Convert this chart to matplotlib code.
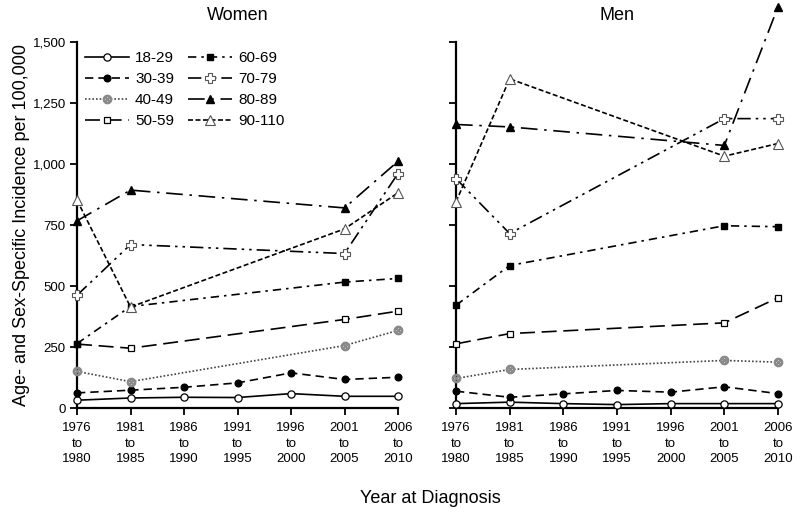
import matplotlib
matplotlib.use('Agg')
import matplotlib.pyplot as plt
import numpy as np

plt.rcParams['font.family'] = ['Liberation Sans', 'DejaVu Sans']

# x positions: 5-year periods, some age groups only reported for 4 periods
years = [1976, 1981, 1986, 1991, 1996, 2001, 2006]
years4 = [1976, 1981, 2001, 2006]
period_labels = ['1976\nto\n1980', '1981\nto\n1985', '1986\nto\n1990',
                 '1991\nto\n1995', '1996\nto\n2000', '2001\nto\n2005',
                 '2006\nto\n2010']

age_groups = ['18-29', '30-39', '40-49', '50-59',
              '60-69', '70-79', '80-89', '90-110']

# women, incidence per 100,000
w_18_29 = [32, 41, 44, 43, 59, 48, 48]
w_30_39 = [62, 73, 85, 103, 144, 117, 126]
w_40_49 = [150, 108, 256, 318]
w_50_59 = [262, 245, 363, 397]
w_60_69 = [264, 416, 516, 531]
w_70_79 = [462, 670, 633, 961]
w_80_89 = [767, 893, 820, 1011]
w_90_110 = [852, 414, 734, 882]

# men, incidence per 100,000
m_18_29 = [18, 24, 18, 14, 18, 18, 18]
m_30_39 = [69, 44, 58, 72, 65, 87, 59]
m_40_49 = [121, 158, 195, 188]
m_50_59 = [263, 305, 349, 452]
m_60_69 = [421, 584, 747, 743]
m_70_79 = [940, 715, 1186, 1186]
m_80_89 = [1162, 1152, 1076, 1644]
m_90_110 = [845, 1349, 1032, 1084]

women = [w_18_29, w_30_39, w_40_49, w_50_59, w_60_69, w_70_79, w_80_89, w_90_110]
men = [m_18_29, m_30_39, m_40_49, m_50_59, m_60_69, m_70_79, m_80_89, m_90_110]

# line / marker style per age group
styles = [
    dict(ls='-', marker='o', mfc='white', mec='black', ms=5.2, mew=0.9),
    dict(ls=(0, (5, 3)), marker='o', mfc='black', mec='black', ms=4.8),
    dict(ls=(0, (1, 1.2)), marker='$\\otimes$', mfc='#8a8a8a', mec='#8a8a8a', ms=6, color='#444444'),
    dict(ls=(0, (9, 4)), marker='s', mfc='white', mec='black', ms=5, mew=0.9),
    dict(ls=(0, (5, 3, 1.5, 3)), marker='s', mfc='black', mec='black', ms=4.3),
    dict(ls=(0, (8, 3, 1.5, 3, 1.5, 3)), marker='P', mfc='white', mec='#555555', ms=7, mew=0.8),
    dict(ls=(0, (10, 4, 1.5, 4)), marker='^', mfc='black', mec='black', ms=6),
    dict(ls=(0, (3, 1.5)), marker='^', mfc='white', mec='#555555', ms=7, mew=0.8),
]

fig = plt.figure(figsize=(8, 5.14), dpi=100)
ax_w = fig.add_axes([0.09625, 0.2062, 0.40125, 0.7121])
ax_m = fig.add_axes([0.57, 0.2062, 0.4025, 0.7121])

for ax, data, title in [(ax_w, women, 'Women'), (ax_m, men, 'Men')]:
    for i, vals in enumerate(data):
        xs = years if len(vals) == 7 else years4
        st = dict(styles[i])
        color = st.pop('color', 'black')
        ax.plot(xs, vals, color=color, lw=1.2, clip_on=False, zorder=3,
                label=age_groups[i], **st)
    ax.set_xlim(1976, 2006)
    ax.set_ylim(0, 1500)
    ax.set_xticks(years)
    ax.set_xticklabels(period_labels, fontsize=10, linespacing=1.4)
    ax.set_yticks(np.arange(0, 1501, 250))
    ax.spines['top'].set_visible(False)
    ax.spines['right'].set_visible(False)
    ax.spines['left'].set_linewidth(1.6)
    ax.spines['bottom'].set_linewidth(1.6)
    ax.tick_params(axis='both', length=5, width=1.3, labelsize=9.5, pad=3)
    ax.tick_params(axis='x', pad=5)
    ax.set_title(title, fontsize=13, pad=16)

ax_w.set_yticklabels(['{:,}'.format(v) for v in range(0, 1501, 250)])
ax_m.set_yticklabels([])

ax_w.legend(ncol=2, loc='upper left', bbox_to_anchor=(0.0, 0.995),
            frameon=False, fontsize=11, handlelength=2.9, handletextpad=0.4,
            labelspacing=0.45, columnspacing=0.9, borderpad=0)

fig.text(0.0275, 0.562, 'Age- and Sex-Specific Incidence per 100,000',
         rotation=90, ha='center', va='center', fontsize=13)
fig.text(0.5375, 0.031, 'Year at Diagnosis', ha='center', va='center', fontsize=13)

plt.savefig('out.png', dpi=100)
